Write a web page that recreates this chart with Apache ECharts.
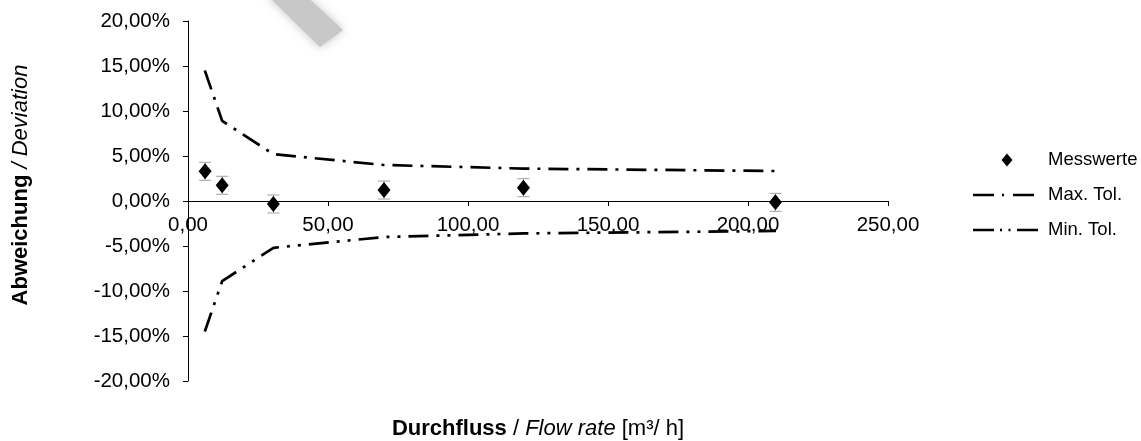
<!DOCTYPE html>
<html>
<head>
<meta charset="utf-8">
<script src="https://cdn.jsdelivr.net/npm/echarts@6/dist/echarts.min.js"></script>
<style>html,body{margin:0;padding:0;background:#fff}#c{width:1141px;height:441px}</style>
</head>
<body>
<div id="c"></div>
<script>
// ---- data ----
const flowRates = [6.1, 12.2, 30.5, 70.0, 119.8, 209.8];      // m³/h
const measured = [3.30, 1.75, -0.33, 1.22, 1.48, -0.15];     // % deviation
const measuredErr = [1.0, 1.0, 1.0, 1.0, 1.0, 1.0];           // ± %
const tolFlow = [6.0, 12.2, 30.5, 70.0, 120.0, 210.0];
const maxTol = [14.5, 8.9, 5.2, 4.0, 3.6, 3.33];
const minTol = [-14.5, -8.9, -5.2, -4.0, -3.6, -3.33];
const seriesNames = ['Messwerte', 'Max. Tol.', 'Min. Tol.'];

const FONT = '"Liberation Sans", Arial, sans-serif';
const fmt = v => v.toFixed(2).replace('.', ',');
const MAX_DASH = [20, 8, 3, 8];
const MIN_DASH = [20, 8, 3, 8, 3, 8];

const chart = echarts.init(document.getElementById('c'), null, {renderer: 'canvas'});

const msData = flowRates.map((x, i) => [x, measured[i]]);
const errData = flowRates.map((x, i) => [x, measured[i] - measuredErr[i], measured[i] + measuredErr[i]]);
const maxData = tolFlow.map((x, i) => [x, maxTol[i]]);
const minData = tolFlow.map((x, i) => [x, minTol[i]]);

// legend (drawn as graphic to match the reference look)
const LX = 973, LTX = 1048, LY = [160, 195, 230];
const legendGraphics = [
  {type: 'polygon', silent: true,
   shape: {points: [[1007, LY[0] - 6.5], [1012.5, LY[0]], [1007, LY[0] + 6.5], [1001.5, LY[0]]]},
   style: {fill: '#000'}},
  {type: 'line', silent: true, shape: {x1: LX, y1: LY[1], x2: 1034, y2: LY[1]},
   style: {stroke: '#000', lineWidth: 2.7, lineDash: [21, 8, 2, 9]}},
  {type: 'line', silent: true, shape: {x1: LX, y1: LY[2], x2: 1039, y2: LY[2]},
   style: {stroke: '#000', lineWidth: 2.7, lineDash: [21, 6, 2, 6.5, 2, 6.5]}}
].concat(seriesNames.map((n, i) => ({
  type: 'text', silent: true, x: LTX, y: LY[i],
  style: {text: n, fill: '#000', fontSize: 18.5, fontFamily: FONT, verticalAlign: 'middle', align: 'left'}
})));

chart.setOption({
  backgroundColor: '#fff',
  animation: false,
  textStyle: {fontFamily: FONT},
  grid: {left: 188, right: 253, top: 21, bottom: 60, containLabel: false},
  xAxis: {
    type: 'value', min: 0, max: 250, interval: 50,
    offset: -180,
    axisLine: {onZero: false, lineStyle: {color: '#000', width: 1}},
    axisTick: {show: true, length: 5, lineStyle: {color: '#000'}},
    axisLabel: {color: '#000', fontSize: 20.5, fontFamily: FONT, margin: 14, formatter: v => fmt(v)},
    splitLine: {show: false}
  },
  yAxis: {
    type: 'value', min: -20, max: 20, interval: 5,
    axisLine: {show: true, onZero: false, lineStyle: {color: '#000', width: 1}},
    axisTick: {show: true, length: 5, lineStyle: {color: '#000'}},
    axisLabel: {color: '#000', fontSize: 20.5, fontFamily: FONT, margin: 18, formatter: v => fmt(v) + '%'},
    splitLine: {show: false}
  },
  graphic: [
    {
      type: 'polygon', silent: true, z: 0,
      shape: {points: [[267, -5], [305, -5], [343, 30], [320, 47]]},
      style: {fill: '#c8c8c8', shadowBlur: 10, shadowColor: 'rgba(180,180,180,0.8)'}
    },
    {
      type: 'text', silent: true, x: 538, y: 429,
      style: {
        align: 'center', verticalAlign: 'middle',
        text: '{b|Durchfluss} / {i|Flow rate} [m³/ h]',
        rich: {b: {fontWeight: 'bold', fontSize: 22, fontFamily: FONT, fill: '#000'},
               i: {fontStyle: 'italic', fontSize: 22, fontFamily: FONT, fill: '#000'}},
        fontSize: 22, fontFamily: FONT, fill: '#000'
      }
    },
    {
      type: 'text', silent: true, x: 21, y: 185, rotation: Math.PI / 2,
      style: {
        align: 'center', verticalAlign: 'middle',
        text: '{b|Abweichung} {i|/ Deviation}',
        rich: {b: {fontWeight: 'bold', fontSize: 22, fontFamily: FONT, fill: '#000'},
               i: {fontStyle: 'italic', fontSize: 22, fontFamily: FONT, fill: '#000'}},
        fontSize: 22, fontFamily: FONT, fill: '#000'
      }
    }
  ].concat(legendGraphics),
  series: [
    {
      name: 'errbars', type: 'custom', z: 2, silent: true,
      data: errData,
      renderItem: (params, api) => {
        const x = api.value(0);
        const lo = api.coord([x, api.value(1)]);
        const hi = api.coord([x, api.value(2)]);
        const hw = 6;
        const st = {stroke: '#a0a0a0', lineWidth: 1};
        return {type: 'group', children: [
          {type: 'line', shape: {x1: lo[0], y1: lo[1], x2: hi[0], y2: hi[1]}, style: st},
          {type: 'line', shape: {x1: lo[0] - hw, y1: lo[1], x2: lo[0] + hw, y2: lo[1]}, style: st},
          {type: 'line', shape: {x1: hi[0] - hw, y1: hi[1], x2: hi[0] + hw, y2: hi[1]}, style: st}
        ]};
      }
    },
    {
      name: seriesNames[0], type: 'scatter', z: 5,
      symbol: 'diamond', symbolSize: [13, 16],
      itemStyle: {color: '#000', opacity: 1},
      data: msData
    },
    {
      name: seriesNames[1], type: 'line', z: 4, symbol: 'none',
      lineStyle: {color: '#000', width: 2.7, type: MAX_DASH},
      data: maxData
    },
    {
      name: seriesNames[2], type: 'line', z: 4, symbol: 'none',
      lineStyle: {color: '#000', width: 2.7, type: MIN_DASH},
      data: minData
    }
  ]
});
</script>
</body>
</html>
